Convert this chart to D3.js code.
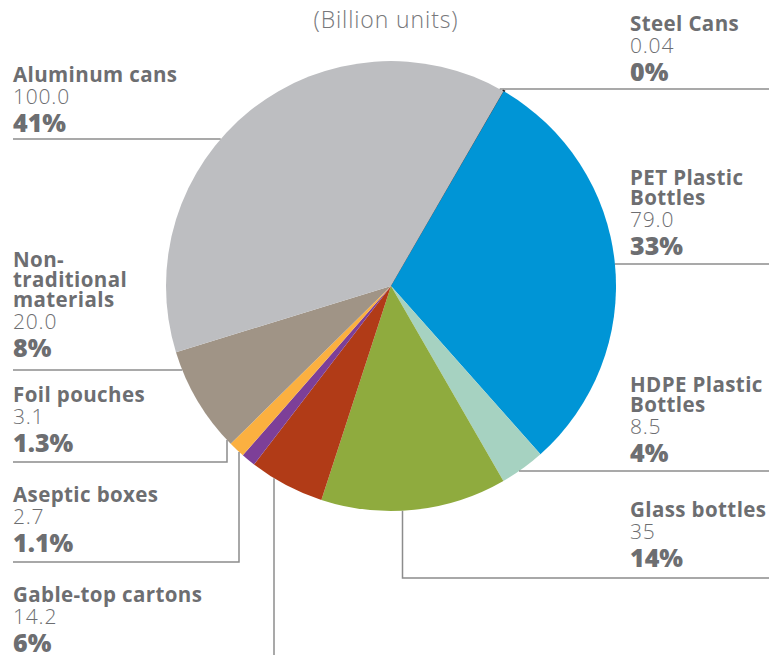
<!DOCTYPE html>
<html>
<head>
<meta charset="utf-8">
<script src="https://cdn.jsdelivr.net/npm/d3@7"></script>
<style>
  html, body { margin: 0; padding: 0; background: #fff; }
  svg { display: block; }
  .name { font-family: "Open Sans", sans-serif; font-weight: 700; font-size: 20.5px; letter-spacing: 0.4px; fill: #6d6e71; }
  .val { font-family: "Open Sans", sans-serif; font-weight: 300; font-size: 21px; letter-spacing: 0.8px; fill: #6d6e71; }
  .pct { font-family: "Open Sans", sans-serif; font-weight: 800; font-size: 25px; fill: #6d6e71; }
  .title { font-family: "Open Sans", sans-serif; font-weight: 300; font-size: 23px; letter-spacing: 0.9px; fill: #77787b; }
  .rule { stroke: #8c8c8c; stroke-width: 1.5; fill: none; }
</style>
</head>
<body>
<script>
// Beverage container volumes, billion units
const categories = ["Steel Cans", "PET Plastic Bottles", "HDPE Plastic Bottles", "Glass bottles",
  "Gable-top cartons", "Aseptic boxes", "Foil pouches", "Non-traditional materials", "Aluminum cans"];
const nameLines = [["Steel Cans"], ["PET Plastic", "Bottles"], ["HDPE Plastic", "Bottles"], ["Glass bottles"],
  ["Gable-top cartons"], ["Aseptic boxes"], ["Foil pouches"], ["Non-", "traditional", "materials"], ["Aluminum cans"]];
const values = [0.04, 79.0, 8.5, 35, 14.2, 2.7, 3.1, 20.0, 100.0];
const valueLabels = ["0.04", "79.0", "8.5", "35", "14.2", "2.7", "3.1", "20.0", "100.0"];
const shareLabels = ["0%", "33%", "4%", "14%", "6%", "1.1%", "1.3%", "8%", "41%"];
const colors = ["#231f20", "#0095d6", "#a6d2c1", "#8fab3e", "#b13b17", "#7d3f98", "#fbb040", "#a09486", "#bdbec1"];

// Label placement: side, first name baseline, rule y, leader style
const labelLayout = [
  { side: "right", y: 31,  rule: 89,  leader: "h" },
  { side: "right", y: 185, rule: 264, leader: "h" },
  { side: "right", y: 392, rule: 471, leader: "h" },
  { side: "right", y: 517, rule: 578, leader: "elbow", vx: 402.5 },
  { side: "left",  y: 602, rule: null, leader: "drop", vx: 274 },
  { side: "left",  y: 502, rule: 562, leader: "elbow", vx: 239 },
  { side: "left",  y: 402, rule: 462, leader: "elbow", vx: 227 },
  { side: "left",  y: 267, rule: 370, leader: "h" },
  { side: "left",  y: 82,  rule: 139, leader: "h" }
];

const W = 775, H = 655;
const cx = 391, cy = 286, R = 225;
const leftX = 13, rightX = 630, rightEnd = 769;

const svg = d3.select("body").append("svg").attr("width", W).attr("height", H);

svg.append("text").attr("class", "title")
  .attr("x", 386).attr("y", 28).attr("text-anchor", "middle")
  .text("(Billion units)");

const deg = Math.PI / 180;
const pie = d3.pie().sort(null).value(d => d)
  .startAngle(30 * deg).endAngle(390 * deg);
const arcs = pie(values);
const arc = d3.arc().innerRadius(0).outerRadius(R);

const g = svg.append("g").attr("transform", `translate(${cx},${cy})`);
g.selectAll("path").data(arcs).join("path")
  .attr("d", arc)
  .attr("fill", (d, i) => colors[i])
  .attr("stroke", (d, i) => d.data < 1 ? colors[i] : "none")
  .attr("stroke-width", (d, i) => d.data < 1 ? 2.6 : 0);

// Leader rules
const edgeX = (y, side) => cx + (side === "right" ? 1 : -1) * Math.sqrt(Math.max(0, R * R - (y - cy) * (y - cy)));
const edgeY = x => cy + Math.sqrt(Math.max(0, R * R - (x - cx) * (x - cx)));

labelLayout.forEach((L, i) => {
  let pts;
  if (L.leader === "h") {
    pts = L.side === "right"
      ? [[edgeX(L.rule, "right"), L.rule], [rightEnd, L.rule]]
      : [[leftX, L.rule], [edgeX(L.rule, "left"), L.rule]];
  } else if (L.leader === "elbow") {
    pts = L.side === "right"
      ? [[L.vx, edgeY(L.vx)], [L.vx, L.rule], [rightEnd, L.rule]]
      : [[leftX, L.rule], [L.vx, L.rule], [L.vx, edgeY(L.vx)]];
  } else {
    pts = [[L.vx, edgeY(L.vx)], [L.vx, H]];
  }
  svg.append("path").attr("class", "rule").attr("d", d3.line()(pts));

  const x = L.side === "right" ? rightX : leftX;
  const t = svg.append("g");
  nameLines[i].forEach((ln, k) => {
    t.append("text").attr("class", "name").attr("x", x).attr("y", L.y + k * 20).text(ln);
  });
  const lastY = L.y + (nameLines[i].length - 1) * 20;
  t.append("text").attr("class", "val").attr("x", x).attr("y", lastY + 21.5).text(valueLabels[i]);
  t.append("text").attr("class", "pct").attr("x", x).attr("y", lastY + 50).text(shareLabels[i]);
});
</script>
</body>
</html>
